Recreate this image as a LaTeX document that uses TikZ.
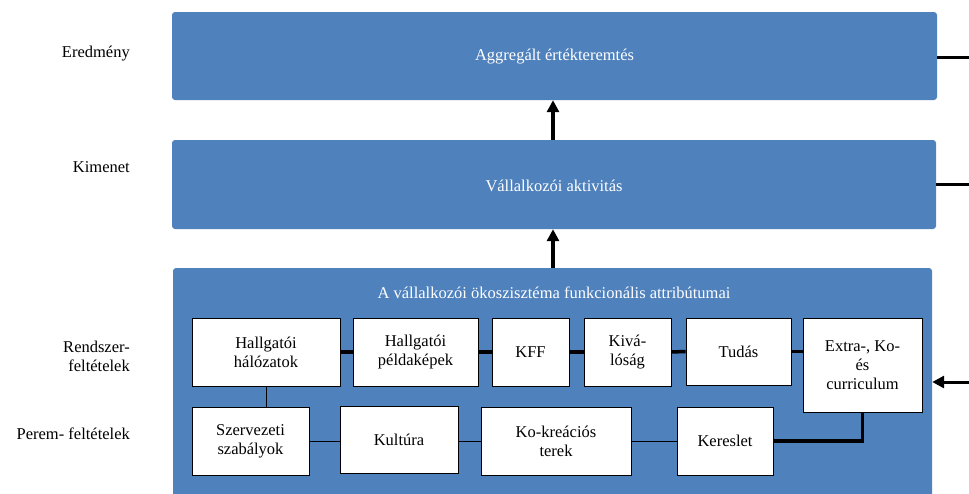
\documentclass[tikz,border=0pt]{standalone}
\usepackage{fontspec}
\setmainfont{Liberation Serif}
\usetikzlibrary{arrows.meta}
\definecolor{panelblue}{HTML}{4F81BD}
\begin{document}
\begin{tikzpicture}[x=1pt,y=-1pt,
  every node/.style={font=\rmfamily\fontsize{16.5}{19}\selectfont},
  panel/.style={fill=panelblue, rounded corners=3pt, inner sep=0pt, text=white},
  attr/.style={draw=black, line width=0.8pt, fill=white, inner sep=0pt, align=center},
  rowlabel/.style={anchor=east, align=right, inner sep=0pt},
  thick link/.style={line width=3.5pt},
  thin link/.style={line width=0.9pt},
  up arrow/.style={line width=3.5pt, -{Triangle[length=12pt,width=12pt]}}
]
\useasboundingbox (0,0) rectangle (969,493);
\clip (0,0) rectangle (969,493);

% three stacked panels
\node[panel, minimum width=765pt, minimum height=88pt] (res) at (554.5,56) {};
\node[text=white] at (554.5,57) {Aggregált értékteremtés};
\node[panel, minimum width=764pt, minimum height=89pt] (out) at (554,184.5) {};
\node[text=white] at (554,186) {Vállalkozói aktivitás};
\node[panel, minimum width=759pt, minimum height=240pt] (sys) at (552.5,388) {};
\node[text=white] at (554,293) {A vállalkozói ökoszisztéma funkcionális attribútumai};

% row labels
\node[rowlabel] (l1) at (130,54) {Eredmény};
\node[rowlabel] (l2) at (130,167) {Kimenet};
\node[rowlabel] (l3) at (130,356) {Rendszer-\\feltételek};
\node[rowlabel] (l4) at (130,434) {Perem- feltételek};

% system conditions
\node[attr, minimum width=148pt, minimum height=68pt] (hh) at (266,352) {Hallgatói\\hálózatok};
\node[attr, minimum width=125pt, minimum height=68pt] (hp) at (415.5,352) {Hallgatói\\példaképek};
\node[attr, minimum width=77pt, minimum height=68pt] (kff) at (530.5,352) {KFF};
\node[attr, minimum width=87pt, minimum height=68pt] (kiv) at (627.5,352) {Kivá-\\lóság};
\node[attr, minimum width=105pt, minimum height=67pt] (tud) at (738.5,351.5) {Tudás};
\node[attr, minimum width=119pt, minimum height=94pt] (ext) at (862.5,365) {Extra-, Ko-\\és\\curriculum};

% framework conditions
\node[attr, minimum width=117pt, minimum height=68pt] (szs) at (250.5,441) {Szervezeti\\szabályok};
\node[attr, minimum width=118pt, minimum height=67pt] (kul) at (399,439.5) {Kultúra};
\node[attr, minimum width=150pt, minimum height=68pt] (kok) at (556,441) {Ko-kreációs\\terek};
\node[attr, minimum width=96pt, minimum height=68pt] (ker) at (725,441) {Kereslet};

% links between the system conditions
\draw[thick link] (hh.east) -- (hp.west);
\draw[thick link] (hp.east) -- (kff.west);
\draw[thick link] (kff.east) -- (kiv.west);
\draw[thick link] (kiv.east) -- (tud.west);
\draw[thick link] (tud.east) -- (tud.east -| ext.west);

% links between the framework conditions
\draw[thin link] (hh.south) -- (hh.south |- szs.north);
\draw[thin link] (szs.east) -- (szs.east -| kul.west);
\draw[thin link] (kok.west |- szs.east) -- (kul.east |- szs.east);
\draw[thin link] (kok.east) -- (ker.west);
\draw[thick link] (ker.east) -| (ext.south);

% upward flow
\draw[up arrow] (sys.north -| 553,0) -- (out.south -| 553,0);
\draw[up arrow] (out.north -| 553,0) -- (res.south -| 553,0);

% links at the right edge
\coordinate (r1) at (969,57);
\coordinate (r2) at (969,184);
\coordinate (r3) at (969,382);
\draw[line width=3pt] (res.east |- r1) -- (r1);
\draw[line width=3pt] (out.east |- r2) -- (r2);
\draw[line width=3pt, -{Triangle[length=12pt,width=12pt]}] (r3) -- (sys.east |- r3);
\end{tikzpicture}
\end{document}
